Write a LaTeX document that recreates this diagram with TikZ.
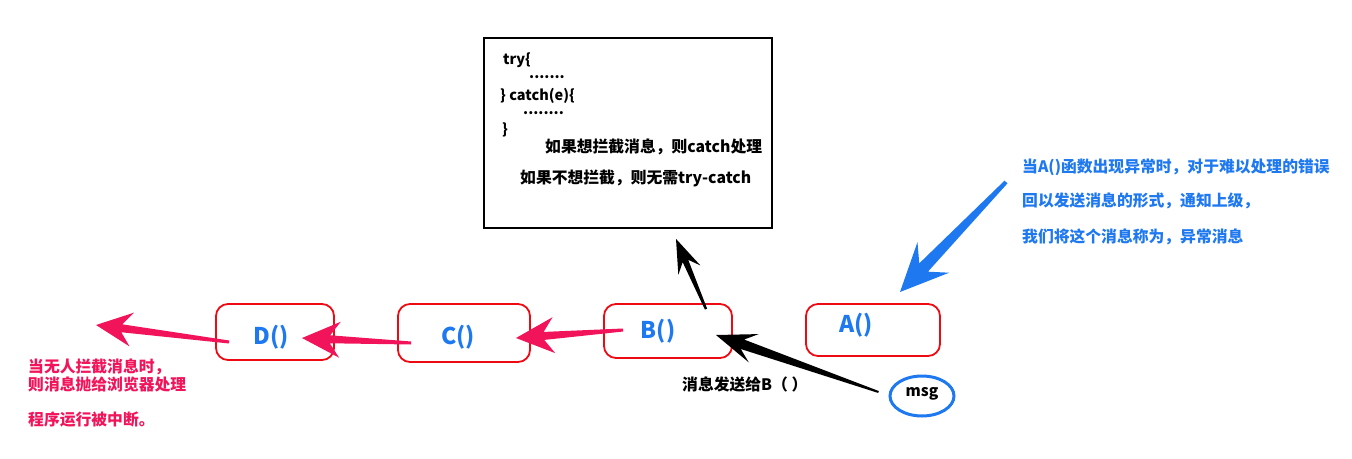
\documentclass[tikz,border=0pt]{standalone}
\usepackage{fontspec}
\setmainfont{Noto Sans CJK SC}
\usetikzlibrary{calc,shapes.geometric}
\definecolor{pinkc}{HTML}{F2145A}
\definecolor{bluec}{HTML}{1E78F0}
\definecolor{boxred}{HTML}{EE0A12}
\newcommand\fatarr[8]{%
  \path ($(#3)!#6!(#2)$) coordinate (fa-b) ($(#3)!#7!(#2)$) coordinate (fa-i);
  \fill[#1] ($(#2)!#4!90:(#3)$) -- ($(fa-i)!#5!90:(#3)$) -- ($(fa-b)!#8!90:(#3)$) -- (#3)
    -- ($(fa-b)!#8!-90:(#3)$) -- ($(fa-i)!#5!-90:(#3)$) -- ($(#2)!#4!-90:(#3)$) -- cycle;}
\begin{document}
\begin{tikzpicture}[x=1pt,y=-1pt,
  fn/.style={draw=boxred,line width=1.8pt,rounded corners=12pt,minimum width=#1,inner sep=0pt},
  fnlabel/.style={font=\fontsize{23}{25}\selectfont\bfseries,text=bluec,inner sep=0pt},
  code/.style={font=\fontsize{14.5}{16}\selectfont\bfseries,anchor=west,inner sep=0pt},
  note/.style={font=\fontsize{15.8}{17}\selectfont\bfseries,anchor=west,inner sep=0pt}]
\useasboundingbox (0,0) rectangle (1352,458);
% code box
\node[draw=black,line width=1.8pt,minimum width=288pt,minimum height=190pt,inner sep=0pt] (box) at (628,133) {};
\node[code] (t1) at (503,60) {try\{};
\node[code] (t2) at (529,77) {.......};
\node[code] (t3) at (500,96) {\} catch(e)\{};
\node[code] (t4) at (523,113) {........};
\node[code] (t5) at (502,130) {\}};
\node[note] (t6) at (545,147) {如果想拦截消息，则catch处理};
\node[note] (t7) at (520,178) {如果不想拦截，则无需try-catch};
% function boxes
\node[fn=118pt,minimum height=56pt] (d) at (275,332) {};
\node[fn=132pt,minimum height=58pt] (c) at (464,333) {};
\node[fn=128pt,minimum height=54pt] (b) at (668,331) {};
\node[fn=134pt,minimum height=52pt] (a) at (873,330) {};
\node[fnlabel] (dl) at (271,337) {D()};
\node[fnlabel] (cl) at (458,337) {C()};
\node[fnlabel] (bl) at (658,331) {B()};
\node[fnlabel] (al) at (856,325) {A()};
% msg
\node[draw=bluec,line width=3pt,ellipse,minimum width=64pt,minimum height=40pt,inner sep=0pt] (msg) at (922,396) {};
\node[font=\fontsize{15.5}{17}\selectfont\bfseries,inner sep=0pt] (msgl) at (922,394) {msg};
% texts
\node[note,text=bluec] (r1) at (1022,167) {当A()函数出现异常时，对于难以处理的错误};
\node[note,text=bluec] (r2) at (1022,201) {回以发送消息的形式，通知上级，};
\node[note,text=bluec] (r3) at (1022,237) {我们将这个消息称为，异常消息};
\node[note,text=pinkc] (l1) at (28,367) {当无人拦截消息时，};
\node[note,text=pinkc] (l2) at (28,384) {则消息抛给浏览器处理};
\node[note,text=pinkc] (l3) at (28,420) {程序运行被中断。};
\node[note] (sendl) at (682,384) {消息发送给B（ ）};
% arrow endpoints
\coordinate (ds) at ($(d.west)+(14,10)$);
\coordinate (dt) at (96,325);
\coordinate (cs) at ($(c.west)+(14,10)$);
\coordinate (ct) at (302,338);
\coordinate (bs) at ($(b.west)+(20,-1)$);
\coordinate (bt) at (516,338);
\coordinate (ms) at ($(msg.west)+(-10,-4)$);
\coordinate (mt) at (716,335);
\coordinate (bu) at ($(b.north)+(38,6)$);
\coordinate (bxt) at ($(box.south)+(48,10)$);
\coordinate (as) at (1006,182);
\coordinate (at) at (900,292);
% arrows
\fatarr{pinkc}{ds}{dt}{1.5pt}{4pt}{36pt}{26pt}{17pt}
\fatarr{pinkc}{cs}{ct}{1.5pt}{4pt}{38pt}{28pt}{18pt}
\fatarr{pinkc}{bs}{bt}{1.5pt}{4pt}{38pt}{28pt}{18pt}
\fatarr{black}{ms}{mt}{1pt}{5pt}{40pt}{28pt}{15pt}
\fatarr{black}{bu}{bxt}{1.2pt}{3pt}{34pt}{24pt}{12pt}
\fatarr{bluec}{as}{at}{2pt}{6pt}{48pt}{34pt}{22pt}
\end{tikzpicture}
\end{document}
